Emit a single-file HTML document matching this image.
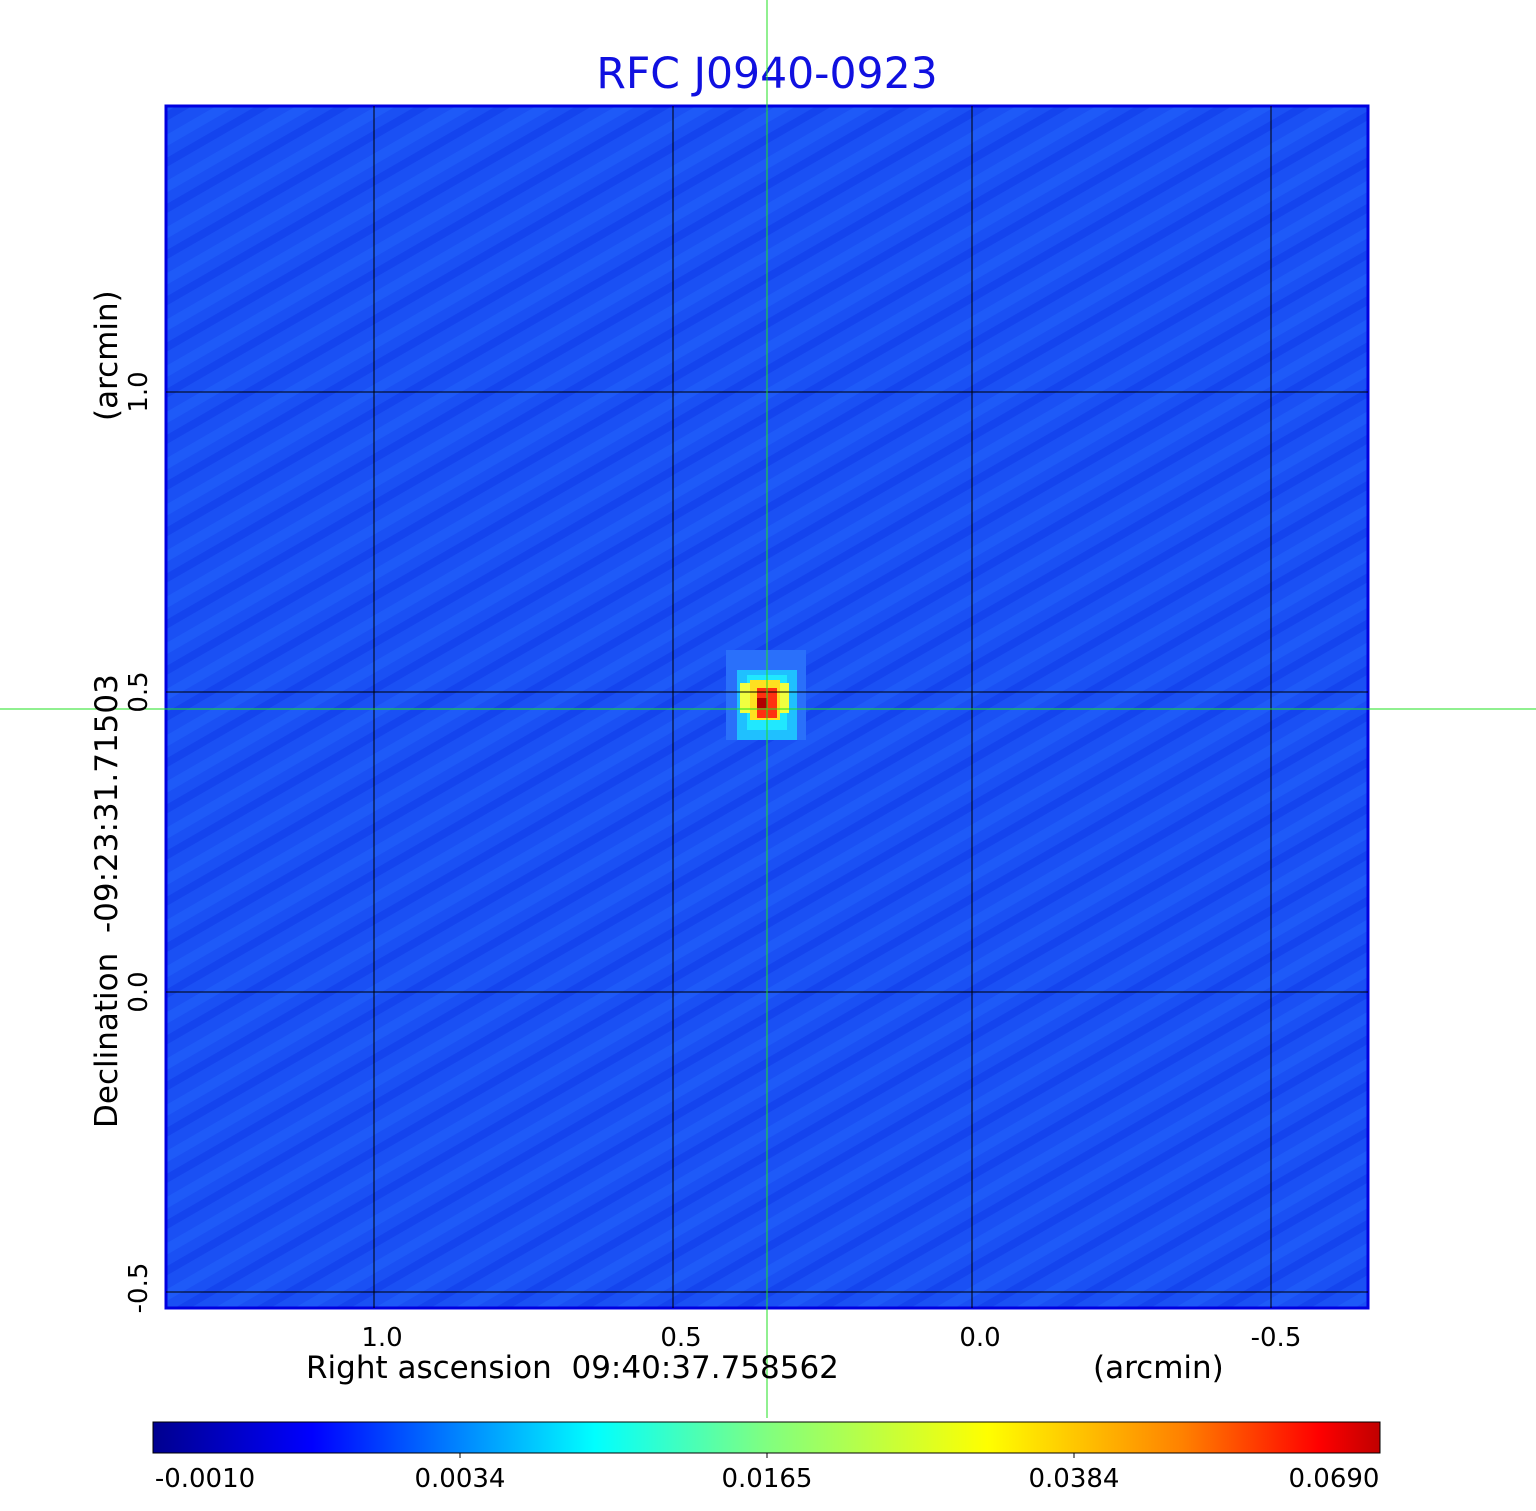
<!DOCTYPE html>
<html><head><style>
html,body{margin:0;padding:0;background:#fff;width:1536px;height:1511px;overflow:hidden}
text{font-family:"DejaVu Sans","Liberation Sans",sans-serif;white-space:pre}
</style></head><body>
<svg width="1536" height="1511" xmlns="http://www.w3.org/2000/svg" xml:space="preserve">
<defs>
<linearGradient id="jet" x1="0" x2="1" y1="0" y2="0">
<stop offset="0" stop-color="#00008f"/>
<stop offset="0.13" stop-color="#0000ff"/>
<stop offset="0.36" stop-color="#00ffff"/>
<stop offset="0.5" stop-color="#80ff80"/>
<stop offset="0.68" stop-color="#ffff00"/>
<stop offset="0.84" stop-color="#ff8000"/>
<stop offset="0.95" stop-color="#ff0000"/>
<stop offset="1" stop-color="#c00000"/>
</linearGradient>
<pattern id="noise" width="40" height="40" patternUnits="userSpaceOnUse" patternTransform="rotate(-30)">
<rect width="40" height="40" fill="#1a50f4"/>
<rect y="0" width="40" height="10" fill="#1e5af8"/>
<rect y="20" width="40" height="8" fill="#1444ee"/>
</pattern>
</defs>
<text x="767" y="88" font-size="42.5" fill="#1010e0" text-anchor="middle">RFC J0940-0923</text>
<rect x="166" y="106" width="1202" height="1202" fill="url(#noise)" stroke="#0000e0" stroke-width="3"/>
<g>
<rect x="726" y="650" width="80" height="90" fill="#2a70fa"/>
<rect x="737" y="670" width="60" height="70" fill="#1fc0ff"/>
<rect x="747" y="675" width="40" height="55" fill="#20e8ff"/>
<rect x="740" y="683" width="49" height="30" fill="#f0ff40"/>
<rect x="750" y="680" width="30" height="40" fill="#ffe020"/>
<rect x="757" y="688" width="20" height="30" fill="#ff3010"/>
<rect x="757" y="698" width="10" height="10" fill="#b00000"/>
</g>
<g stroke="#000" stroke-width="1">
<line x1="374" y1="106" x2="374" y2="1308"/>
<line x1="673" y1="106" x2="673" y2="1308"/>
<line x1="972" y1="106" x2="972" y2="1308"/>
<line x1="1271" y1="106" x2="1271" y2="1308"/>
<line x1="166" y1="392" x2="1368" y2="392"/>
<line x1="166" y1="692" x2="1368" y2="692"/>
<line x1="166" y1="992" x2="1368" y2="992"/>
<line x1="166" y1="1292" x2="1368" y2="1292"/>
</g>
<g stroke="#20e020" stroke-width="1">
<line x1="767" y1="0" x2="767" y2="1418"/>
<line x1="0" y1="709" x2="1536" y2="709"/>
</g>
<g font-size="26" fill="#000" text-anchor="middle">
<text x="382" y="1346">1.0</text>
<text x="681" y="1346">0.5</text>
<text x="980" y="1346">0.0</text>
<text x="1276" y="1346">-0.5</text>
<text transform="translate(147,392) rotate(-90)">1.0</text>
<text transform="translate(147,692) rotate(-90)">0.5</text>
<text transform="translate(147,992) rotate(-90)">0.0</text>
<text transform="translate(147,1288) rotate(-90)">-0.5</text>
</g>
<g font-size="31" fill="#000">
<text x="306" y="1378">Right ascension  09:40:37.758562</text>
<text x="1093" y="1378">(arcmin)</text>
<text transform="translate(117,1128) rotate(-90)">Declination  -09:23:31.71503</text>
<text transform="translate(117,421) rotate(-90)">(arcmin)</text>
</g>
<rect x="153" y="1422" width="1227" height="31" fill="url(#jet)" stroke="#000" stroke-width="1"/>
<g stroke="#000"><line x1="460" y1="1453" x2="460" y2="1458"/><line x1="767" y1="1453" x2="767" y2="1458"/><line x1="1074" y1="1453" x2="1074" y2="1458"/></g>
<g font-size="26" fill="#000" text-anchor="middle">
<text x="205" y="1487">-0.0010</text>
<text x="460" y="1487">0.0034</text>
<text x="767" y="1487">0.0165</text>
<text x="1074" y="1487">0.0384</text>
<text x="1334" y="1487">0.0690</text>
</g>
</svg>
</body></html>
